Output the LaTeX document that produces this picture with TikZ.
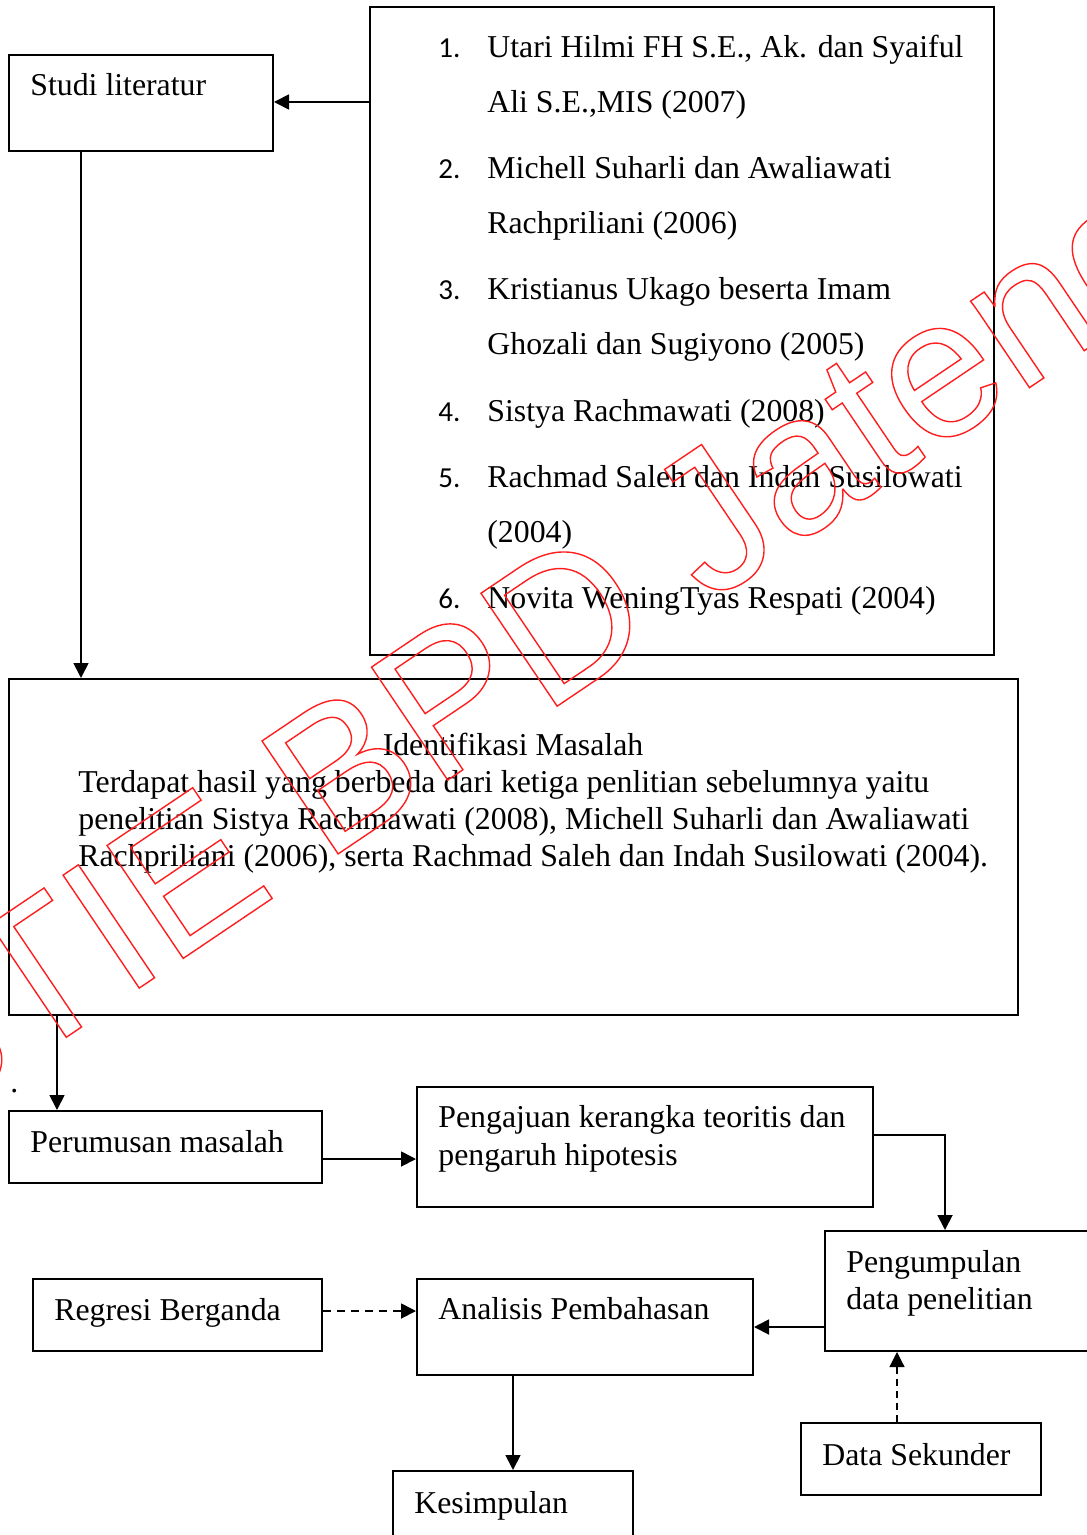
\documentclass[tikz,border=0pt]{standalone}
\usepackage{fontspec}
\setmainfont{Liberation Serif}
\newfontfamily\numfont{Carlito}
\newfontfamily\stampfont{Liberation Sans}
\usetikzlibrary{arrows.meta,fit}
\definecolor{stampred}{RGB}{255,30,30}
\begin{document}
\begin{tikzpicture}
[x=0.5pt,y=-0.5pt,
  boxDecorate/.style={draw,line width=1pt,inner sep=0pt},
  textDecorate/.style={anchor=base west,inner sep=0pt,font=\fontsize{15.9}{18}\selectfont},
  numDecorate/.style={anchor=base west,inner sep=0pt,font=\numfont\fontsize{14.5}{18}\selectfont},
  lineDecorate/.style={-{Triangle[length=7.5pt,width=7.5pt]},line width=0.9pt},
  dashDecorate/.style={lineDecorate,dash pattern=on 4pt off 3pt},
  stampDecorate/.style={anchor=base west,inner sep=0pt,text=stampred,
    font=\stampfont\fontsize{99}{99}\selectfont}]
\useasboundingbox (0,0) rectangle (1086,1535);
%% boxes
\foreach \boxname/\xa/\ya/\xb/\yb in {
  studi/9/55/273/151, refs/370/7/994/655, ident/9/679/1018/1015,
  rumus/9/1111/322/1183, ajuan/417/1087/873/1207, kumpul/825/1231/1110/1351,
  analisis/417/1279/753/1375, regresi/33/1279/322/1351,
  simpul/393/1471/633/1550, sekunder/801/1423/1041/1495}
{
  \node[boxDecorate,fit={(\xa,\ya) (\xb,\yb)}] (\boxname) {};
}
%% texts
\foreach \txtname/\x/\y/\txt in {
  tstudi/30/96/{Studi literatur},
  tpar1/78/792/{Terdapat hasil yang berbeda dari ketiga penlitian sebelumnya yaitu},
  tpar2/78/829/{penelitian Sistya Rachmawati (2008), Michell Suharli dan Awaliawati},
  tpar3/78/866/{Rachpriliani (2006), serta Rachmad Saleh dan Indah Susilowati (2004).},
  tdot/10/1092/{.},
  trumus/30/1152/{Perumusan masalah},
  tajuan1/438/1127/{Pengajuan kerangka teoritis dan},
  tajuan2/438/1165/{pengaruh hipotesis},
  tkumpul1/846/1272/{Pengumpulan},
  tkumpul2/846/1309/{data penelitian},
  tregresi/54/1320/{Regresi Berganda},
  tanalisis/438/1319/{Analisis Pembahasan},
  tsekunder/822/1465/{Data Sekunder},
  tsimpul/414/1513/{Kesimpulan}}
{
  \node (\txtname) at (\x,\y) [textDecorate] {\txt};
}
\node (tident) at (513,755) [textDecorate,anchor=base] {Identifikasi Masalah};
%% reference list
\foreach \num/\y/\txt in {
  1./58/{Utari Hilmi FH S.E., Ak. dan Syaiful}, /113/{Ali S.E.,MIS (2007)},
  2./179/{Michell Suharli dan Awaliawati}, /234/{Rachpriliani (2006)},
  3./300/{Kristianus Ukago beserta Imam}, /355/{Ghozali dan Sugiyono (2005)},
  4./421/{Sistya Rachmawati (2008)},
  5./487/{Rachmad Saleh dan Indah Susilowati}, /542/{(2004)},
  6./608/{Novita WeningTyas Respati (2004)}}
{
  \node (num\y) at (438,\y) [numDecorate] {\num};
  \node (ref\y) at (487,\y) [textDecorate] {\txt};
}
%% connectors
\draw[lineDecorate] (refs.west |- 0,102) -- (studi.east |- 0,102);
\draw[lineDecorate] (studi.south -| 81,0) -- (ident.north -| 81,0);
\draw[lineDecorate] (ident.south -| 57,0) -- (rumus.north -| 57,0);
\draw[lineDecorate] (rumus.east |- 0,1159) -- (ajuan.west |- 0,1159);
\draw[lineDecorate] (ajuan.east |- 0,1135) -| (kumpul.north -| 945,0);
\draw[lineDecorate] (kumpul.west |- 0,1327) -- (analisis.east |- 0,1327);
\draw[dashDecorate] (regresi.east |- 0,1311) -- (analisis.west |- 0,1311);
\draw[lineDecorate] (analisis.south -| 513,0) -- (simpul.north -| 513,0);
\draw[dashDecorate,line width=0.6pt,dash pattern=on 3.5pt off 2.5pt]
  (sekunder.north -| 897,0) -- (kumpul.south -| 897,0);
%% stamp
\node (stamp) at (-86,1140) [stampDecorate,rotate=34]
  {\special{pdf:code 1 Tr 0.7 w}STIE BPD Jateng\special{pdf:code 0 Tr}};
\end{tikzpicture}
\end{document}
